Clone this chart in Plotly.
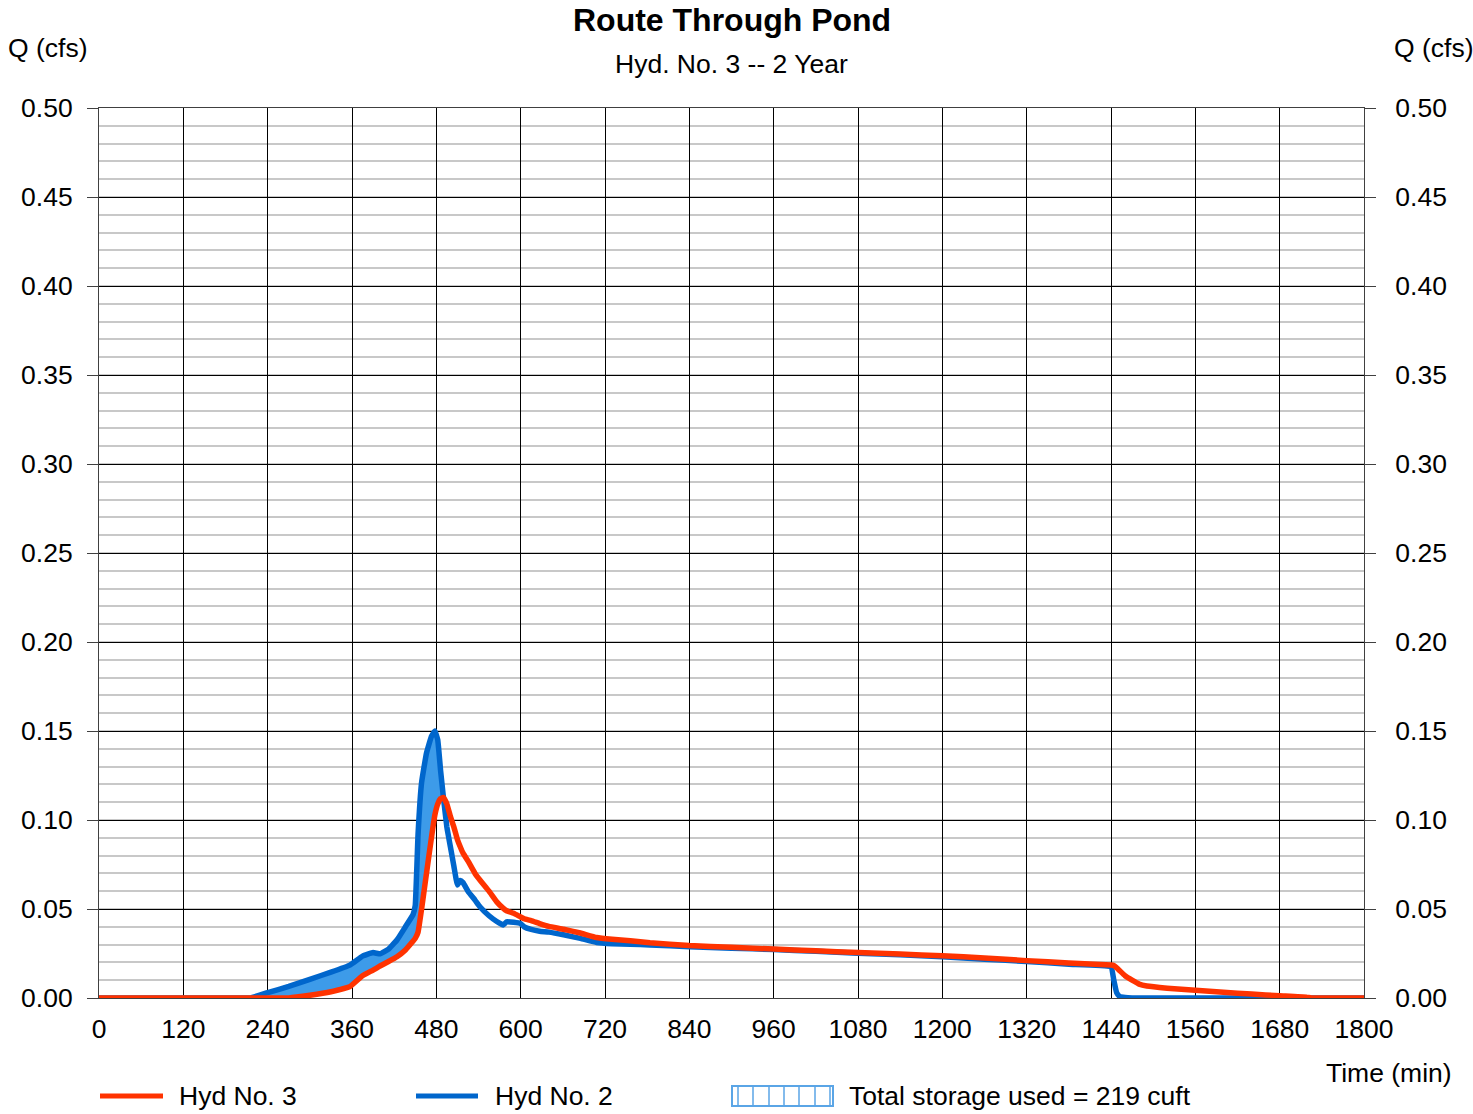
import numpy as np
import plotly.graph_objects as go

# ---------------- data ----------------
time_min = [0, 200, 215, 240, 270, 300, 330, 357, 375, 390, 400, 412, 424, 436, 447, 450,
            454, 459, 466, 473, 478, 482, 486, 490, 495, 500, 505, 510, 514, 518, 525,
            535, 542, 555, 566, 575, 580, 590, 600, 605, 615, 627, 640, 661, 685, 708,
            730, 756, 784, 840, 900, 960, 1020, 1080, 1140, 1200, 1260, 1320, 1380,
            1440, 1444, 1448, 1452, 1460, 1470, 1480, 1491, 1520, 1560, 1600, 1640,
            1680, 1718, 1725, 1800]

hyd2_inflow = [0, 0, 0, 0.003, 0.0065, 0.0105, 0.0145, 0.0185, 0.0235, 0.0255, 0.0248,
               0.0275, 0.0326, 0.040, 0.047, 0.052, 0.092, 0.121, 0.1376, 0.147, 0.150,
               0.145, 0.128, 0.113, 0.096, 0.085, 0.074, 0.0635, 0.066, 0.0648, 0.060,
               0.055, 0.0513, 0.0462, 0.043, 0.041, 0.0428, 0.0425, 0.0418, 0.0400,
               0.0385, 0.0375, 0.0370, 0.0355, 0.0335, 0.0312, 0.0305, 0.0302, 0.0298,
               0.0288, 0.0280, 0.0272, 0.0262, 0.0252, 0.0243, 0.0232, 0.0218, 0.0205,
               0.0190, 0.0175, 0.010, 0.003, 0.001, 0.0003, 0, 0, 0, 0, 0, 0, 0,
               0, 0, 0, 0]

hyd3_outflow = [0, 0, 0, 0, 0, 0.0015, 0.0035, 0.0064, 0.0125, 0.0157, 0.018, 0.0205,
                0.0232, 0.027, 0.032, 0.0335, 0.037, 0.050, 0.070, 0.090, 0.103, 0.109,
                0.112, 0.1127, 0.109, 0.102, 0.096, 0.089, 0.085, 0.0814, 0.077, 0.070,
                0.0663, 0.060, 0.054, 0.0505, 0.049, 0.0476, 0.0455, 0.0445, 0.0435,
                0.0418, 0.0402, 0.0386, 0.0365, 0.0340, 0.0330, 0.0322, 0.0310, 0.0295,
                0.0285, 0.0275, 0.0265, 0.0255, 0.0247, 0.0237, 0.0225, 0.0210, 0.0197,
                0.0185, 0.0183, 0.0170, 0.0155, 0.0125, 0.0100, 0.0078, 0.0067, 0.0055,
                0.0043, 0.0032, 0.0022, 0.0013, 0.0005, 0, 0]

x_ticks = [0, 120, 240, 360, 480, 600, 720, 840, 960, 1080, 1200, 1320, 1440, 1560, 1680, 1800]
y_ticks = [0.00, 0.05, 0.10, 0.15, 0.20, 0.25, 0.30, 0.35, 0.40, 0.45, 0.50]

title_text = "Route Through Pond"
subtitle_text = "Hyd. No. 3 -- 2 Year"
legend_labels = ["Hyd No. 3", "Hyd No. 2", "Total storage used = 219 cuft"]

# ---------------- style ----------------
RED = "#ff3300"
BLUE = "#0066cc"
FILL = "#3d9be9"
HATCH = "#5aa5e6"
FONT = "Liberation Sans, Arial, sans-serif"
FS = 26.5

W, H = 1473, 1114
L, R, T, B = 99, 1364, 108, 998


def px(xp):
    return (xp - L) / (R - L)


def py(yp):
    return (B - yp) / (B - T)


t = np.array(time_min, dtype=float)
q2 = np.array(hyd2_inflow, dtype=float)
q3 = np.array(hyd3_outflow, dtype=float)
upper = np.maximum(q2, q3)

fig = go.Figure()
fig.add_trace(go.Scatter(x=t, y=q3, mode="lines", line=dict(width=0, color=RED),
                         showlegend=False, hoverinfo="skip"))
fig.add_trace(go.Scatter(x=t, y=upper, mode="lines", line=dict(width=0, color=BLUE),
                         fill="tonexty", fillcolor=FILL, showlegend=False, hoverinfo="skip"))
fig.add_trace(go.Scatter(x=t, y=q2, mode="lines", name="Hyd No. 2",
                         line=dict(color=BLUE, width=5.5, shape="spline", smoothing=0.3),
                         showlegend=False))
fig.add_trace(go.Scatter(x=t, y=q3, mode="lines", name="Hyd No. 3",
                         line=dict(color=RED, width=5.5, shape="spline", smoothing=0.3),
                         showlegend=False))
# right axis helper trace
fig.add_trace(go.Scatter(x=[0], y=[0], yaxis="y2", mode="markers",
                         marker=dict(opacity=0), showlegend=False, hoverinfo="skip"))

fig.update_layout(
    width=W, height=H,
    margin=dict(l=L, r=W - R, t=T, b=H - B, pad=0),
    paper_bgcolor="white", plot_bgcolor="white",
    font=dict(family=FONT, size=FS, color="black"),
    showlegend=False,
    xaxis=dict(range=[0, 1800], tickmode="array", tickvals=x_ticks,
               ticktext=[str(v) for v in x_ticks],
               showgrid=True, gridcolor="black", gridwidth=1,
               zeroline=False, showline=True, linecolor="#404040", linewidth=1,
               mirror=True, ticks="", ticklabelstandoff=7,
               tickfont=dict(size=FS)),
    yaxis=dict(range=[0, 0.5], tickmode="array", tickvals=y_ticks,
               ticktext=[f"{v:.2f}" for v in y_ticks],
               showgrid=True, gridcolor="black", gridwidth=1,
               minor=dict(dtick=0.01, showgrid=True, gridcolor="#c8c8c8", gridwidth=2,
                          ticks=""),
               zeroline=False, showline=True, linecolor="#404040", linewidth=1,
               mirror=True, ticks="outside", ticklen=11, tickcolor="#404040",
               ticklabelstandoff=9, tickfont=dict(size=FS)),
    yaxis2=dict(range=[0, 0.5], overlaying="y", side="right",
                tickmode="array", tickvals=y_ticks,
                ticktext=[f"{v:.2f}" for v in y_ticks],
                showgrid=False, zeroline=False, showline=False,
                ticks="outside", ticklen=11, tickcolor="#404040",
                ticklabelstandoff=14, tickfont=dict(size=FS)),
)

annotations = [
    dict(x=0.5 * (px(573) + px(890)), y=py(20), text=f"<b>{title_text}</b>",
         font=dict(size=32)),
    dict(x=0.5 * (px(614) + px(848)), y=py(64), text=subtitle_text, font=dict(size=FS)),
    dict(x=px(48), y=py(48), text="Q (cfs)", font=dict(size=FS)),
    dict(x=px(1434), y=py(48), text="Q (cfs)", font=dict(size=FS)),
    dict(x=px(1389), y=py(1073), text="Time (min)", font=dict(size=FS)),
    dict(x=px(177), y=py(1096), text=legend_labels[0], xanchor="left", font=dict(size=FS)),
    dict(x=px(493), y=py(1096), text=legend_labels[1], xanchor="left", font=dict(size=FS)),
    dict(x=px(847), y=py(1096), text=legend_labels[2], xanchor="left", font=dict(size=FS)),
]
for a in annotations:
    a.setdefault("xanchor", "center")
    a.update(xref="paper", yref="paper", yanchor="middle", showarrow=False)
fig.update_layout(annotations=annotations)

shapes = [
    dict(type="line", x0=px(100), x1=px(163), y0=py(1096), y1=py(1096),
         line=dict(color=RED, width=5)),
    dict(type="line", x0=px(416), x1=px(478), y0=py(1096), y1=py(1096),
         line=dict(color=BLUE, width=5)),
    dict(type="rect", x0=px(732), x1=px(833), y0=py(1106), y1=py(1086),
         line=dict(color=HATCH, width=2), fillcolor="rgba(0,0,0,0)"),
]
for xv in [738, 753, 769, 784, 799, 815, 830]:
    shapes.append(dict(type="line", x0=px(xv), x1=px(xv), y0=py(1106), y1=py(1086),
                       line=dict(color=HATCH, width=1.5)))
for s in shapes:
    s.update(xref="paper", yref="paper", layer="above")
fig.update_layout(shapes=shapes)

fig.write_html("out.html")
